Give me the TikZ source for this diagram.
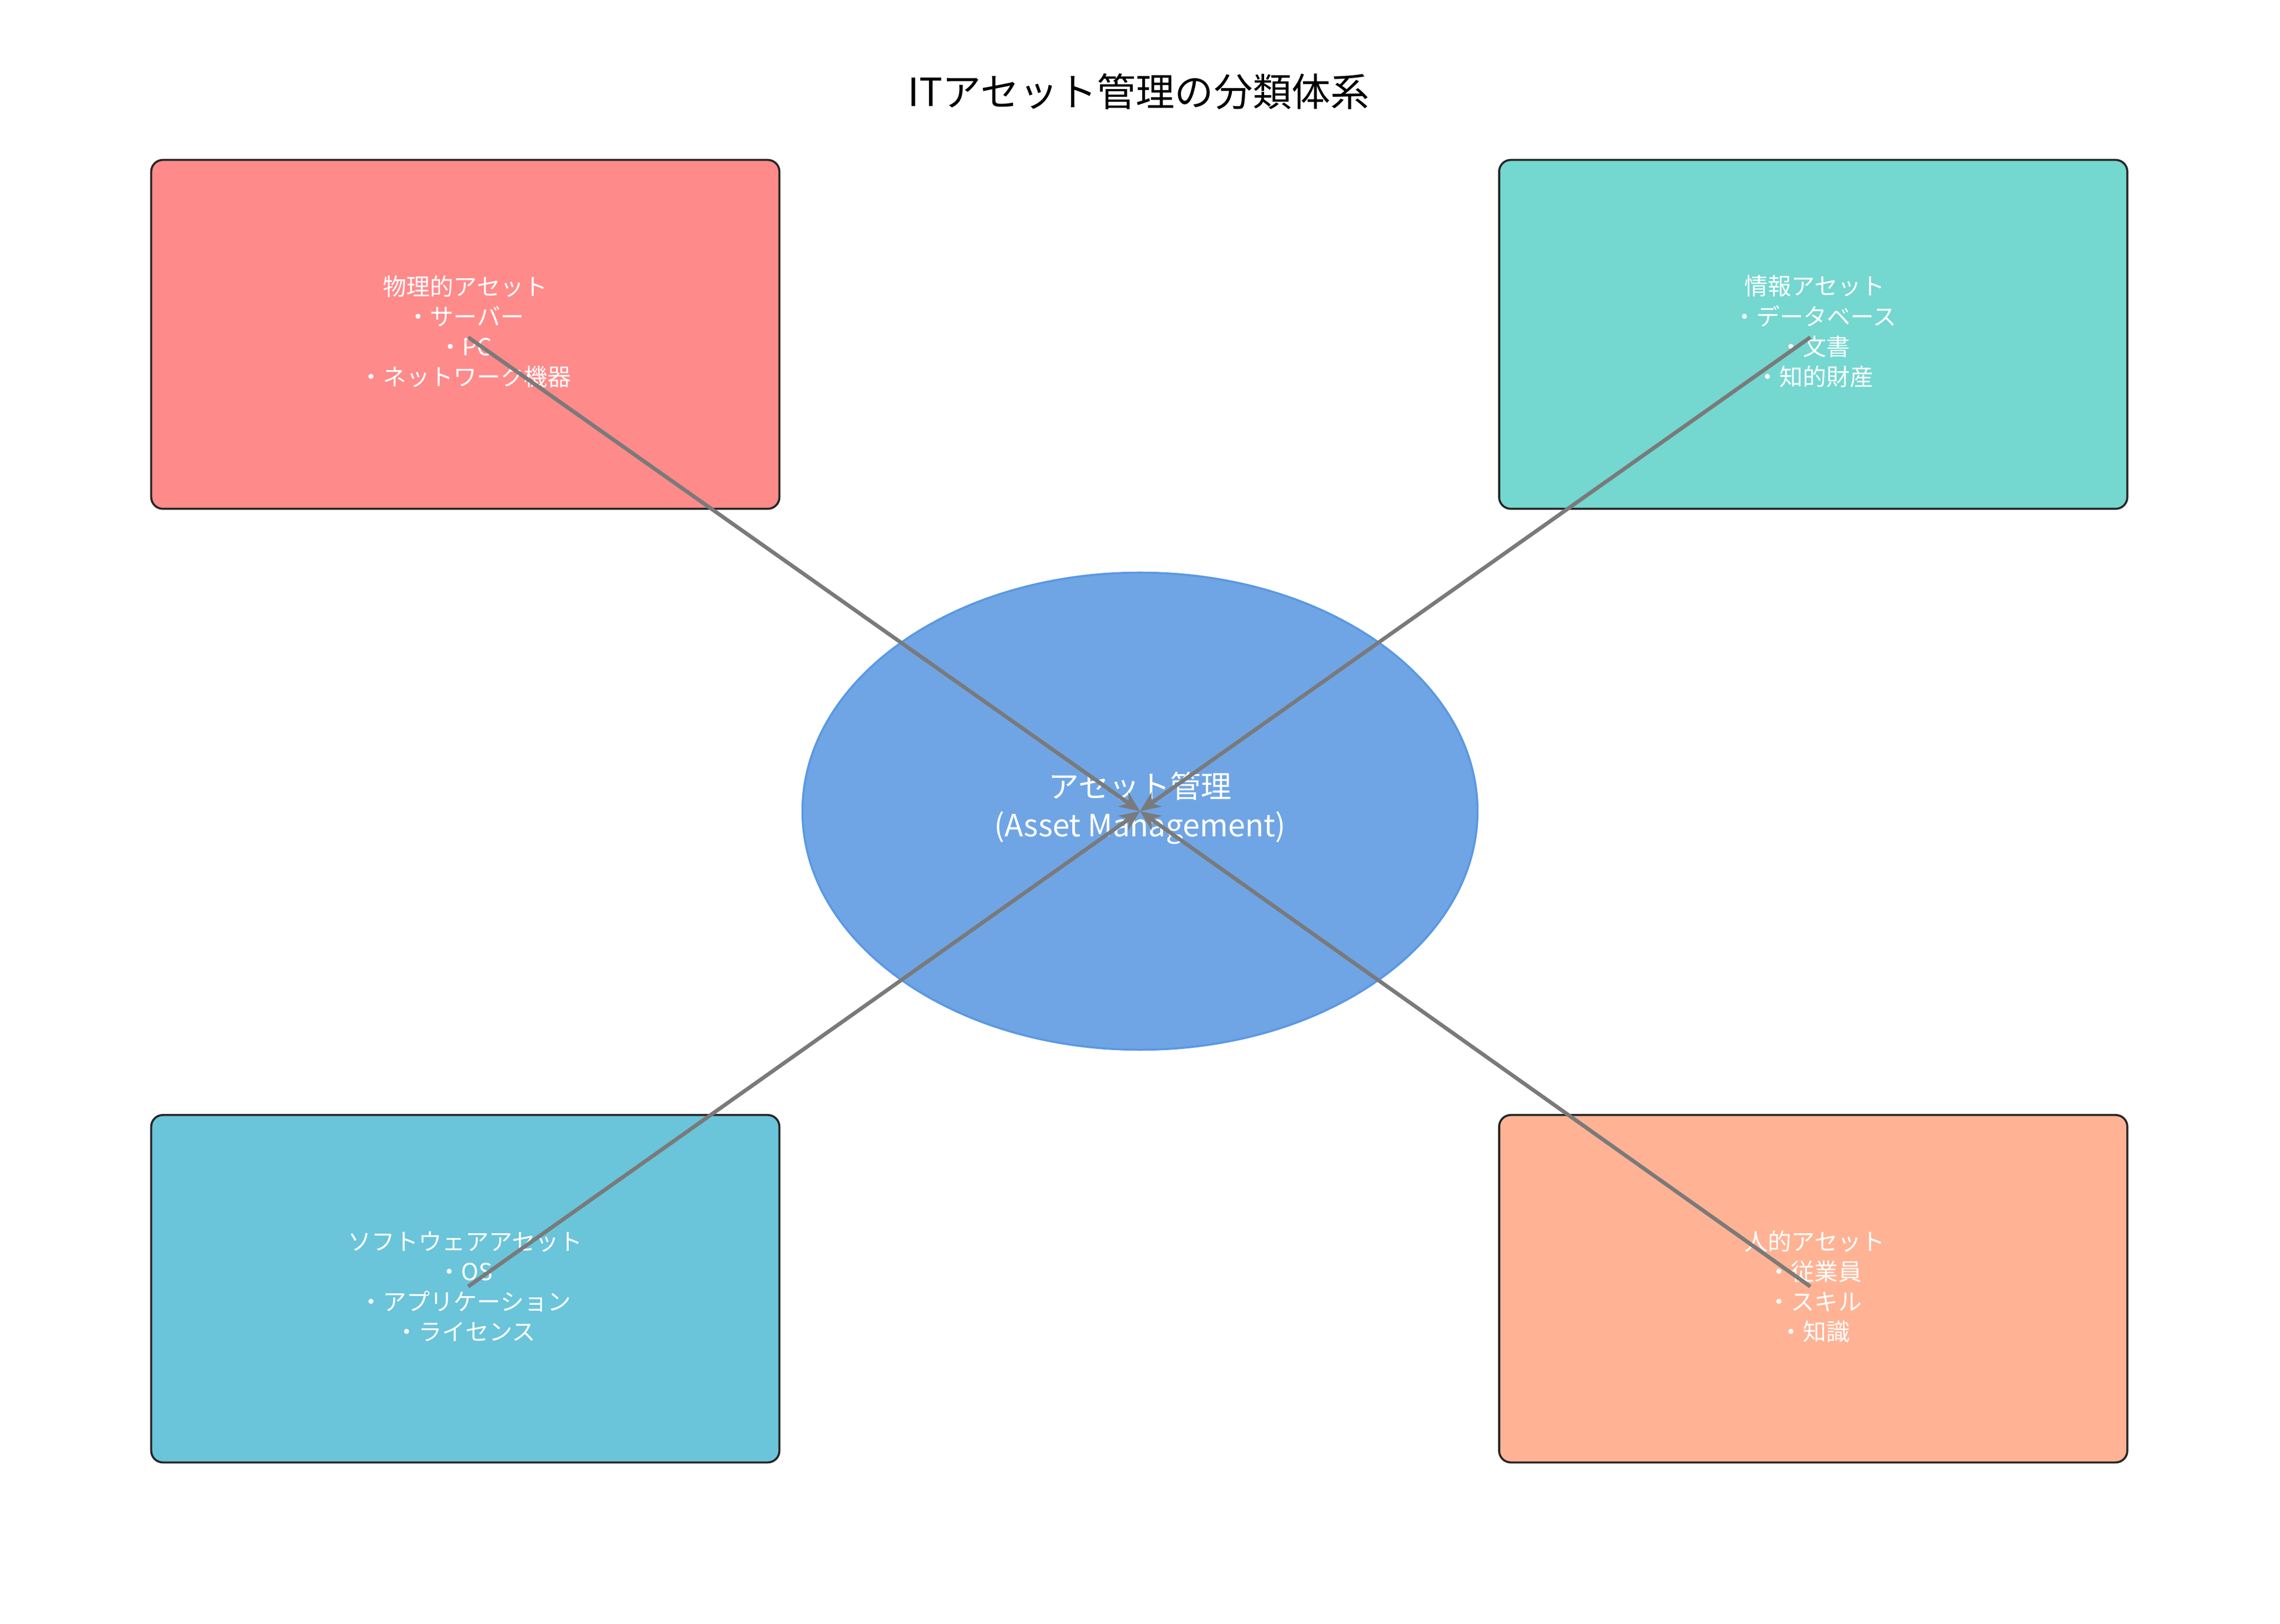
\documentclass[tikz,border=0pt]{standalone}
\usepackage{fontspec}
\usetikzlibrary{shapes.geometric,arrows.meta}
\setmainfont{Noto Sans CJK JP}
\begin{document}
\begin{tikzpicture}[x=0.01cm,y=-0.01cm,
  box/.style={draw=black!85,line width=0.4pt,rounded corners=0.08cm},
  lbl/.style={text=white,font=\fontsize{4.6}{5.9}\selectfont,align=center},
  conn/.style={draw=black!52,line width=0.75pt,-{Stealth[length=0.14cm,width=0.12cm]}}]
\useasboundingbox[fill=white] (0,0) rectangle (1568,1117);
\definecolor{cA}{HTML}{FF8A8A}\definecolor{cB}{HTML}{74D7D0}
\definecolor{cC}{HTML}{6AC4DA}\definecolor{cD}{HTML}{FFB394}
\definecolor{cE}{HTML}{6FA5E5}\definecolor{cEs}{HTML}{5A98E3}
\node (title) at (783,63) {\fontsize{7.6}{9}\selectfont ITアセット管理の分類体系};
\draw[box,fill=cA] (104,110) rectangle (536,350);
\draw[box,fill=cB] (1031,110) rectangle (1463,350);
\draw[box,fill=cC] (104,767) rectangle (536,1006);
\draw[box,fill=cD] (1031,767) rectangle (1463,1006);
\node[ellipse,draw=cEs,fill=cE,minimum width=4.64cm,minimum height=3.28cm,inner sep=0] (center) at (784,558) {};
\node[lbl] (t1) at (320,228) {物理的アセット\\・サーバー\\・PC\\・ネットワーク機器};
\node[lbl] (t2) at (1248,228) {情報アセット\\・データベース\\・文書\\・知的財産};
\node[lbl] (t3) at (320,885) {ソフトウェアアセット\\・OS\\・アプリケーション\\・ライセンス};
\node[lbl] (t4) at (1248,885) {人的アセット\\・従業員\\・スキル\\・知識};
\node[text=white,align=center,font=\fontsize{6}{7.6}\selectfont] (ct) at (784,556) {アセット管理\\(Asset Management)};
\coordinate (s1) at (322,232);\coordinate (s2) at (1245,232);
\coordinate (s3) at (322,885);\coordinate (s4) at (1245,885);
\coordinate (c) at (784,558);
\draw[conn] (s1) -- (c);\draw[conn] (s2) -- (c);
\draw[conn] (s3) -- (c);\draw[conn] (s4) -- (c);
\end{tikzpicture}
\end{document}
